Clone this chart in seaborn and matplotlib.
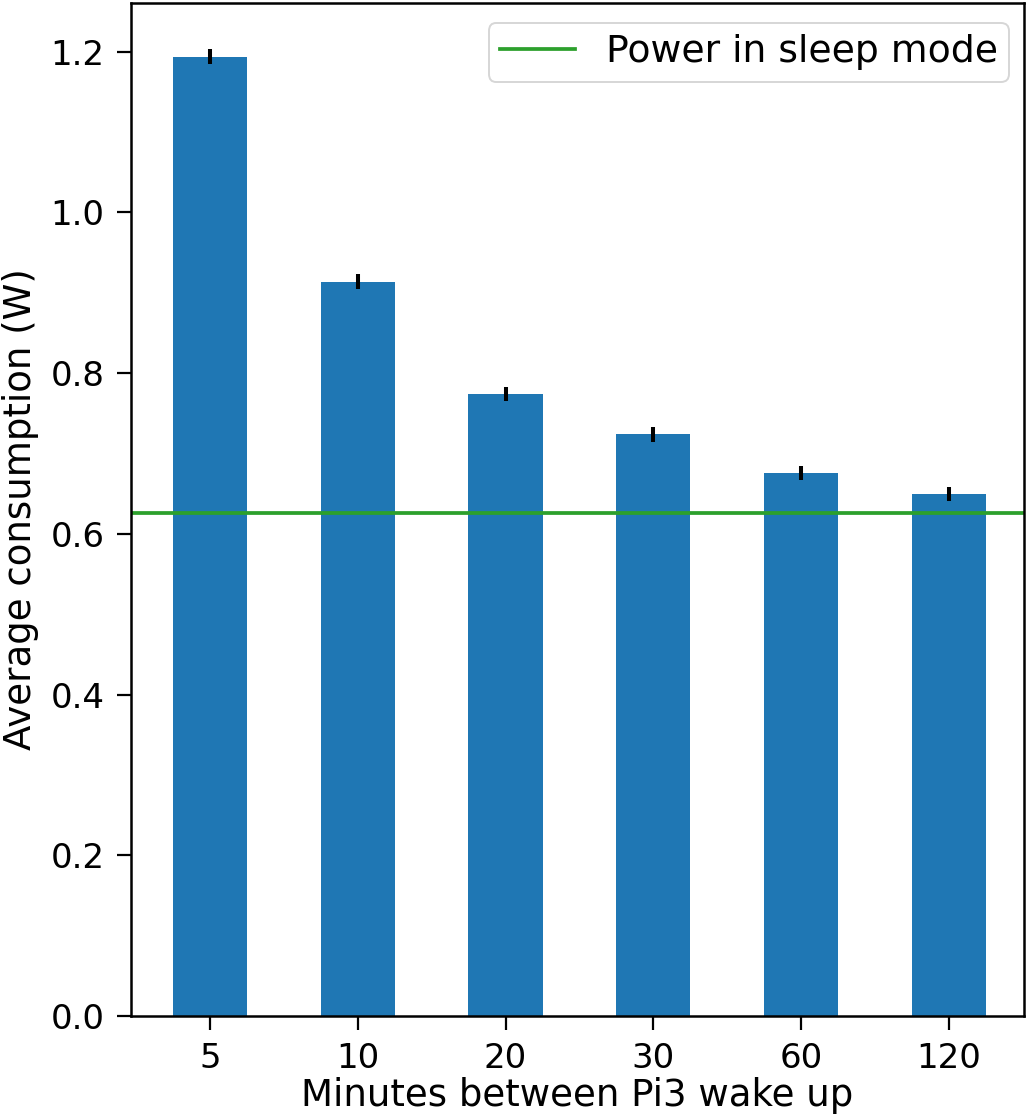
import matplotlib
matplotlib.use("Agg")
import matplotlib.pyplot as plt
import seaborn as sns
import numpy as np
import pandas as pd

# Data
minutes = ["5", "10", "20", "30", "60", "120"]
consumption = [1.194, 0.914, 0.7735, 0.7237, 0.6756, 0.6496]
errors = [0.0093, 0.0097, 0.0087, 0.0097, 0.0085, 0.0087]
sleep_power = 0.6263

plt.rcParams["font.family"] = ["DejaVu Sans"]
TICK_FS = 24.5
LABEL_FS = 26.7
LEG_FS = 27.2

W, H = 1028, 1115
AX_L, AX_R, AX_T, AX_B = 131, 1024, 3, 1016

df = pd.DataFrame({"minutes": minutes, "consumption": consumption})

fig = plt.figure(figsize=(W / 100, H / 100), dpi=100)
ax = fig.add_axes([AX_L / W, 1 - AX_B / H, (AX_R - AX_L) / W, (AX_B - AX_T) / H])

sns.barplot(data=df, x="minutes", y="consumption", order=minutes, ax=ax,
            color="#1f77b4", saturation=1, width=0.503, errorbar=None, linewidth=0)
pos = np.arange(len(minutes))
ax.errorbar(pos, consumption, yerr=errors, fmt="none", ecolor="black",
            elinewidth=2.9, capsize=0, zorder=3)
ax.axhline(sleep_power, color="#2ca02c", linewidth=2.7, label="Power in sleep mode")

ax.set_xlim(-0.534, 5.508)
ax.set_ylim(0, 1.2606)
ax.set_yticks([0.0, 0.2, 0.4, 0.6, 0.8, 1.0, 1.2])
ax.set_yticklabels(["0.0", "0.2", "0.4", "0.6", "0.8", "1.0", "1.2"])
ax.set_xlabel("Minutes between Pi3 wake up", fontsize=LABEL_FS)
ax.set_ylabel("Average consumption (W)", fontsize=LABEL_FS)
ax_w = AX_R - AX_L
ax_h = AX_B - AX_T
ax.yaxis.set_label_coords((39 - AX_L) / ax_w, 0.5)
ax.xaxis.set_label_coords(0.5, (AX_B - 1077) / ax_h)
ax.tick_params(axis="both", labelsize=TICK_FS, length=10, width=1.6, pad=9, colors="black")
for s in ax.spines.values():
    s.set_linewidth(1.8)
    s.set_color("black")

leg = ax.legend(loc="upper right", fontsize=LEG_FS, frameon=True, fancybox=True,
                borderaxespad=0, borderpad=0.3, handlelength=2.0,
                bbox_to_anchor=(1 - 15 / ax_w, 1 - 20 / ax_h))
leg.get_frame().set_linewidth(1.4)

fig.savefig("out.png", dpi=100)
